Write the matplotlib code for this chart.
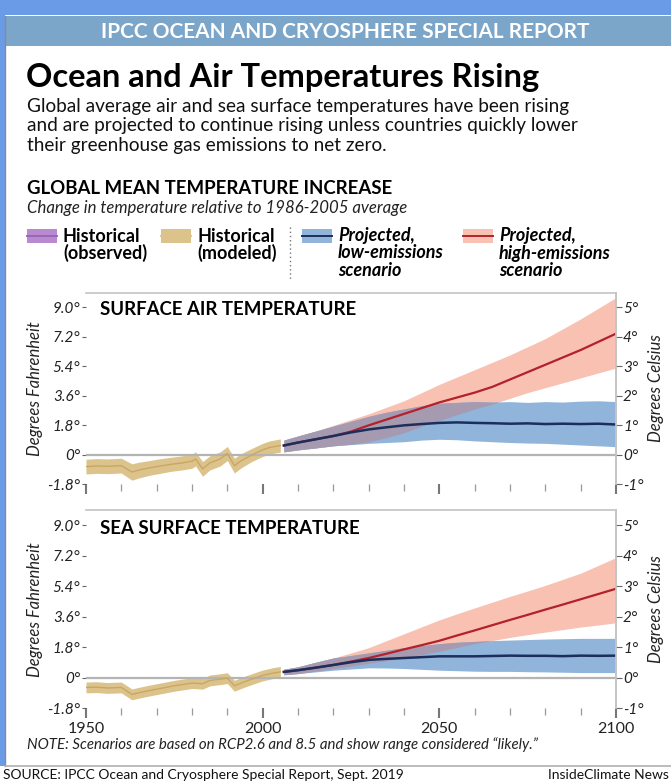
import numpy as np
import matplotlib.pyplot as plt
from matplotlib.patches import Rectangle
from matplotlib.lines import Line2D

W, H = 671, 784

# Historical (modeled) change, degrees F relative to 1986-2005
air_hist_years = [1950, 1953, 1956, 1960, 1963, 1965, 1968, 1970, 1974, 1977, 1980,
                  1981, 1983, 1985, 1988, 1990, 1992, 1994, 1997, 2000, 2002, 2005]
air_hist = [-0.72, -0.68, -0.70, -0.66, -1.05, -0.93, -0.80, -0.72, -0.58, -0.50, -0.39,
            -0.25, -0.86, -0.50, -0.25, 0.08, -0.66, -0.35, 0.00, 0.30, 0.45, 0.57]
air_hist_spread = [0.45, 0.45, 0.45, 0.45, 0.50, 0.48, 0.45, 0.45, 0.43, 0.43, 0.43,
                   0.43, 0.45, 0.43, 0.43, 0.43, 0.45, 0.43, 0.40, 0.40, 0.40, 0.40]

sea_hist_years = [1950, 1953, 1956, 1960, 1963, 1965, 1968, 1970, 1975, 1980, 1983,
                  1985, 1988, 1990, 1992, 1995, 1998, 2000, 2003, 2005]
sea_hist = [-0.57, -0.55, -0.60, -0.57, -0.98, -0.88, -0.75, -0.67, -0.47, -0.31, -0.35,
            -0.16, -0.08, -0.02, -0.47, -0.22, 0.00, 0.14, 0.28, 0.35]
sea_hist_spread = [0.32] * len(sea_hist_years)

# Projections (RCP2.6 = low, RCP8.5 = high), degrees F
proj_years = [2006, 2010, 2015, 2020, 2025, 2030, 2035, 2040, 2045, 2050,
              2055, 2060, 2065, 2070, 2075, 2080, 2085, 2090, 2095, 2100]

air_low = [0.57, 0.75, 0.95, 1.15, 1.37, 1.55, 1.68, 1.80, 1.88, 1.95,
           1.98, 1.95, 1.93, 1.90, 1.92, 1.88, 1.90, 1.88, 1.90, 1.85]
air_low_hi = [0.90, 1.15, 1.45, 1.75, 2.05, 2.35, 2.60, 2.80, 3.00, 3.15,
              3.20, 3.25, 3.22, 3.25, 3.20, 3.25, 3.22, 3.28, 3.30, 3.25]
air_low_lo = [0.18, 0.30, 0.42, 0.55, 0.62, 0.70, 0.75, 0.80, 0.90, 0.95,
              0.92, 0.85, 0.80, 0.75, 0.72, 0.70, 0.65, 0.60, 0.55, 0.50]
air_high = [0.57, 0.75, 0.95, 1.15, 1.42, 1.80, 2.15, 2.50, 2.85, 3.20,
            3.50, 3.80, 4.15, 4.60, 5.05, 5.50, 5.95, 6.40, 6.90, 7.40]
air_high_hi = [0.90, 1.15, 1.45, 1.80, 2.15, 2.50, 2.90, 3.30, 3.80, 4.30,
               4.75, 5.20, 5.65, 6.10, 6.60, 7.10, 7.70, 8.30, 8.95, 9.60]
air_high_lo = [0.18, 0.30, 0.42, 0.55, 0.65, 0.80, 1.05, 1.35, 1.75, 2.10,
               2.45, 2.80, 3.10, 3.45, 3.80, 4.10, 4.40, 4.70, 5.00, 5.30]

sea_low = [0.35, 0.45, 0.60, 0.76, 0.92, 1.06, 1.12, 1.17, 1.22, 1.27,
           1.27, 1.27, 1.29, 1.31, 1.30, 1.30, 1.28, 1.31, 1.30, 1.31]
sea_low_hi = [0.51, 0.65, 0.92, 1.17, 1.32, 1.47, 1.63, 1.78, 1.90, 2.02,
              2.10, 2.15, 2.20, 2.23, 2.26, 2.29, 2.31, 2.33, 2.33, 2.33]
sea_low_lo = [0.18, 0.25, 0.35, 0.45, 0.52, 0.59, 0.58, 0.55, 0.50, 0.45,
              0.42, 0.39, 0.38, 0.38, 0.36, 0.35, 0.33, 0.31, 0.31, 0.31]
sea_high = [0.35, 0.45, 0.60, 0.76, 0.96, 1.17, 1.42, 1.68, 1.93, 2.19,
            2.50, 2.80, 3.11, 3.42, 3.72, 4.03, 4.33, 4.64, 4.95, 5.26]
sea_high_hi = [0.51, 0.65, 0.92, 1.17, 1.47, 1.78, 2.19, 2.60, 3.01, 3.42,
               3.78, 4.13, 4.47, 4.81, 5.13, 5.46, 5.82, 6.18, 6.64, 7.10]
sea_high_lo = [0.18, 0.25, 0.40, 0.55, 0.70, 0.86, 1.01, 1.17, 1.37, 1.57,
               1.80, 2.02, 2.20, 2.39, 2.55, 2.70, 2.85, 3.00, 3.12, 3.25]

f_ticks = [-1.8, 0, 1.8, 3.6, 5.4, 7.2, 9.0]
f_labels = ['-1.8°', '0°', '1.8°', '3.6°', '5.4°', '7.2°', '9.0°']
c_ticks = [-1, 0, 1, 2, 3, 4, 5]
c_labels = ['-1°', '0°', '1°', '2°', '3°', '4°', '5°']
year_ticks = [1950, 2000, 2050, 2100]

# colours
BLUE_BG = '#6a9be6'
HEADER = '#7ba6c9'
TAN_BAND = '#dcc38c'
TAN_LINE = '#c9a762'
LOW_BAND = '#91b4db'
LOW_LINE = '#1c2f5c'
HIGH_BAND = '#f8c1b2'
HIGH_LINE = '#b3212b'
BOTH_BAND = '#a59ab0'
FRAME = '#c4c4c4'

FONT = 'Lato'

fig = plt.figure(figsize=(W / 100, H / 100), dpi=100)
fig.patch.set_facecolor('white')


def fx(x):
    return x / W


def fy(y):
    return 1 - y / H


def rect(x0, y0, x1, y1, **kw):
    fig.add_artist(Rectangle((fx(x0), fy(y1)), (x1 - x0) / W, (y1 - y0) / H,
                             transform=fig.transFigure, **kw))


# page frame
rect(0, 0, W, 15, color=BLUE_BG, lw=0)
rect(0, 15, 5, 766, color=BLUE_BG, lw=0)
rect(5, 16, W, 46, color=HEADER, lw=0)
fig.add_artist(Line2D([fx(5), fx(5)], [fy(16), fy(766)], color='#8a8a8a', lw=1,
                      transform=fig.transFigure))
fig.add_artist(Line2D([fx(5), 1], [fy(766), fy(766)], color='#b0b0b0', lw=1.2,
                      transform=fig.transFigure))

fig.text(fx(345), fy(32), 'IPCC OCEAN AND CRYOSPHERE SPECIAL REPORT', color='white',
         family=FONT, weight='bold', fontsize=15, ha='center', va='center')
fig.text(fx(26), fy(77), 'Ocean and Air Temperatures Rising', family=FONT,
         weight='bold', fontsize=23.5, ha='left', va='center')
fig.text(fx(27), fy(98), 'Global average air and sea surface temperatures have been rising\n'
         'and are projected to continue rising unless countries quickly lower\n'
         'their greenhouse gas emissions to net zero.', family=FONT, fontsize=13.7,
         ha='left', va='top', linespacing=1.17, color='#111111')
fig.text(fx(27), fy(189), 'GLOBAL MEAN TEMPERATURE INCREASE', family=FONT, weight='bold',
         fontsize=13.4, ha='left', va='center')
fig.text(fx(27), fy(208), 'Change in temperature relative to 1986-2005 average', family=FONT,
         style='italic', fontsize=12.1, ha='left', va='center', color='#222222')

# legend
legend_items = [
    (27, '#b98ad0', '#9a66b8', ['Historical', '(observed)'], 'normal'),
    (161, TAN_BAND, TAN_BAND, ['Historical', '(modeled)'], 'normal'),
    (302, LOW_BAND, LOW_LINE, ['Projected,', 'low-emissions', 'scenario'], 'italic'),
    (463, HIGH_BAND, HIGH_LINE, ['Projected,', 'high-emissions', 'scenario'], 'italic'),
]
for x0, band, line, words, style in legend_items:
    rect(x0, 229, x0 + 30, 243, color=band, lw=0)
    fig.add_artist(Line2D([fx(x0), fx(x0 + 30)], [fy(236), fy(236)], color=line, lw=1.4,
                          transform=fig.transFigure))
    for i, w in enumerate(words):
        fig.text(fx(x0 + 36), fy(236 + 17 * i), w, family=FONT, weight='bold', style=style,
                 fontsize=13, ha='left', va='center')
fig.add_artist(Line2D([fx(290), fx(290)], [fy(227), fy(280)], color='#777777', lw=1,
                      ls=(0, (1, 2)), transform=fig.transFigure))


def draw_panel(box, title, hist_years, hist, hist_spread, low, low_lo, low_hi,
               high, high_lo, high_hi, show_years):
    ax = fig.add_axes(box)
    ax.set_xlim(1950, 2100)
    ax.set_ylim(-1.8, 9.9)

    hy = np.array(hist_years)
    hv = np.array(hist)
    hs = np.array(hist_spread)
    ax.fill_between(hy, hv - hs, hv + hs, color=TAN_BAND, lw=0, zorder=2)
    ax.plot(hy, hv, color=TAN_LINE, lw=1, zorder=3)

    py = np.array(proj_years)
    low_lo, low_hi = np.array(low_lo), np.array(low_hi)
    high_lo, high_hi = np.array(high_lo), np.array(high_hi)
    ax.fill_between(py, high_lo, high_hi, color=HIGH_BAND, lw=0, zorder=2)
    ax.fill_between(py, low_lo, low_hi, color=LOW_BAND, lw=0, zorder=2)
    both_lo = np.maximum(low_lo, high_lo)
    both_hi = np.minimum(low_hi, high_hi)
    ax.fill_between(py, both_lo, both_hi, where=both_hi > both_lo, interpolate=True,
                    color=BOTH_BAND, lw=0, zorder=2)
    ax.axhline(0, color='#b4b4b4', lw=1.6, zorder=2.5)
    ax.plot(py, high, color=HIGH_LINE, lw=1.6, zorder=4)
    ax.plot(py, low, color=LOW_LINE, lw=1.8, zorder=5)

    for side in ['left', 'bottom']:
        ax.spines[side].set_visible(False)
    for side in ['top', 'right']:
        ax.spines[side].set_color(FRAME)
        ax.spines[side].set_linewidth(1.2)

    ax.set_yticks(f_ticks)
    ax.set_yticklabels(f_labels, family=FONT, style='italic', fontsize=11, color='#222222')
    ax.tick_params(axis='y', length=3, width=0.8, color='#666666', pad=1)
    ax.set_ylabel('Degrees Fahrenheit', family=FONT, style='italic', fontsize=12,
                  color='#222222', labelpad=3)

    ax.set_xticks(year_ticks)
    ax.set_xticks(range(1950, 2101, 10), minor=True)
    ax.tick_params(axis='x', which='major', length=7, width=1.5, color='#777777', pad=3)
    ax.tick_params(axis='x', which='minor', length=5, width=0.9, color='#999999')
    if show_years:
        ax.set_xticklabels([str(y) for y in year_ticks], family=FONT, fontsize=11.5,
                           color='#222222')
    else:
        ax.set_xticklabels([])

    ax.text(0.026, 0.91, title, transform=ax.transAxes, family=FONT, weight='bold',
            fontsize=13.4, ha='left', va='center')

    axr = ax.twinx()
    axr.set_ylim(-1.8 / 1.8, 9.9 / 1.8)
    for side in ['left', 'bottom', 'top']:
        axr.spines[side].set_visible(False)
    axr.spines['right'].set_color(FRAME)
    axr.spines['right'].set_linewidth(1.2)
    axr.set_yticks(c_ticks)
    axr.set_yticklabels(c_labels, family=FONT, style='italic', fontsize=11, color='#222222')
    axr.tick_params(axis='y', length=4, width=0.8, color='#666666', pad=1)
    axr.set_ylabel('Degrees Celsius', family=FONT, style='italic', fontsize=12,
                   color='#222222', labelpad=3)
    return ax


draw_panel([fx(86), fy(484.3), 530 / W, 191.6 / H], 'SURFACE AIR TEMPERATURE',
           air_hist_years, air_hist, air_hist_spread, air_low, air_low_lo, air_low_hi,
           air_high, air_high_lo, air_high_hi, False)
draw_panel([fx(86), fy(708.3), 530 / W, 198.1 / H], 'SEA SURFACE TEMPERATURE',
           sea_hist_years, sea_hist, sea_hist_spread, sea_low, sea_low_lo, sea_low_hi,
           sea_high, sea_high_lo, sea_high_hi, True)

fig.text(fx(27), fy(745), 'NOTE: Scenarios are based on RCP2.6 and 8.5 and show range '
         'considered \u201clikely.\u201d', family=FONT, style='italic', fontsize=10.8,
         ha='left', va='center', color='#222222')
fig.text(fx(3), fy(775), 'SOURCE: IPCC Ocean and Cryosphere Special Report, Sept. 2019',
         family=FONT, fontsize=10, ha='left', va='center', color='#111111')
fig.text(fx(669), fy(775), 'InsideClimate News', family=FONT, fontsize=10,
         ha='right', va='center', color='#111111')

fig.savefig('out.png', dpi=100, facecolor=fig.get_facecolor())
